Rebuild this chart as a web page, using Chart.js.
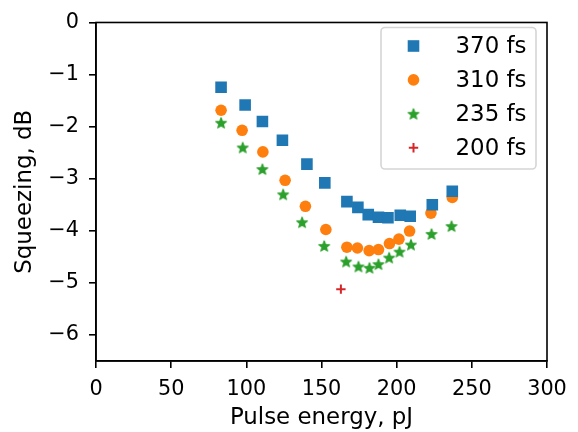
<!DOCTYPE html>
<html>
<head>
<meta charset="utf-8">
<script src="https://cdn.jsdelivr.net/npm/chart.js@4"></script>
<style>
html,body{margin:0;padding:0;background:#fff;}
#wrap{width:578px;height:432px;position:relative;}
</style>
</head>
<body>
<div id="wrap"><canvas id="c" width="578" height="432"></canvas></div>
<script>
// ---- data ----
const seriesLabels = ['370 fs', '310 fs', '235 fs', '200 fs'];
const energy370 = [83.2, 99.2, 110.7, 124.0, 140.3, 152.2, 166.9, 174.2, 181.1, 187.9, 194.2, 202.4, 209.0, 223.7, 237.0];
const squeeze370 = [-1.245, -1.585, -1.90, -2.26, -2.72, -3.08, -3.44, -3.55, -3.69, -3.74, -3.75, -3.70, -3.72, -3.50, -3.24];
const energy310 = [83.2, 97.2, 111.0, 125.8, 139.3, 152.9, 166.9, 173.9, 181.7, 187.9, 195.2, 201.5, 208.6, 222.8, 237.0];
const squeeze310 = [-1.685, -2.07, -2.485, -3.03, -3.53, -3.975, -4.315, -4.33, -4.38, -4.36, -4.245, -4.16, -4.005, -3.66, -3.36];
const energy235 = [83.2, 97.6, 110.7, 124.5, 137.1, 151.8, 166.4, 174.6, 181.9, 187.9, 195.0, 201.9, 209.5, 223.2, 236.5];
const squeeze235 = [-1.925, -2.40, -2.815, -3.30, -3.835, -4.29, -4.59, -4.685, -4.71, -4.64, -4.515, -4.40, -4.265, -4.06, -3.91];
const energy200 = [162.9];
const squeeze200 = [-5.12];
const xTicks = [0, 50, 100, 150, 200, 250, 300];
const yTicks = [0, -1, -2, -3, -4, -5, -6];
const xTitle = 'Pulse energy, pJ';
const yTitle = 'Squeezing, dB';

const FONT = "'DejaVu Sans', sans-serif";
const colors = ['#1f77b4', '#ff7f0e', '#2ca02c', '#d62728'];

// filled five-point star marker (matplotlib '*')
function makeStar(color, R) {
  const s = Math.ceil(R * 2 + 4);
  const cv = document.createElement('canvas');
  cv.width = s; cv.height = s;
  const g = cv.getContext('2d');
  const cx = s / 2, cy = s / 2 + R * 0.1;
  const r = R * 0.42;
  g.beginPath();
  for (let i = 0; i < 10; i++) {
    const a = -Math.PI / 2 + i * Math.PI / 5;
    const rr = i % 2 === 0 ? R : r;
    const px = cx + rr * Math.cos(a), py = cy + rr * Math.sin(a);
    if (i === 0) g.moveTo(px, py); else g.lineTo(px, py);
  }
  g.closePath();
  g.fillStyle = color; g.strokeStyle = color; g.lineWidth = 1.2; g.lineJoin = 'round';
  g.fill(); g.stroke();
  return cv;
}
const starImg = makeStar(colors[2], 5.6);

function pts(xs, ys) { return xs.map((x, i) => ({x: x, y: ys[i]})); }

const datasets = [
  {label: seriesLabels[0], data: pts(energy370, squeeze370), pointStyle: 'rect', pointRadius: 8.2, backgroundColor: colors[0], borderColor: colors[0], borderWidth: 0},
  {label: seriesLabels[1], data: pts(energy310, squeeze310), pointStyle: 'circle', pointRadius: 5.8, backgroundColor: colors[1], borderColor: colors[1], borderWidth: 0},
  {label: seriesLabels[2], data: pts(energy235, squeeze235), pointStyle: starImg, pointRadius: 6, backgroundColor: colors[2], borderColor: colors[2], borderWidth: 0},
  {label: seriesLabels[3], data: pts(energy200, squeeze200), pointStyle: 'cross', pointRadius: 4.7, backgroundColor: colors[3], borderColor: colors[3], borderWidth: 2}
];
datasets.forEach(d => { d.pointHoverRadius = d.pointRadius; d.showLine = false; });

const fmt = v => (v < 0 ? '\u2212' + Math.abs(v) : String(v));

const framePlugin = {
  id: 'frame',
  afterDatasetsDraw(chart) {
    const {ctx, chartArea: a} = chart;
    ctx.save();
    ctx.strokeStyle = '#000';
    ctx.lineWidth = 1.6;
    ctx.strokeRect(a.left, a.top, a.right - a.left, a.bottom - a.top);
    ctx.restore();
  },
  afterDraw(chart) {
    const ctx = chart.ctx;
    // legend box (matplotlib style, upper right)
    const bx = 381, by = 27.5, bw = 155, bh = 141.5, rad = 4;
    ctx.save();
    ctx.beginPath();
    ctx.moveTo(bx + rad, by);
    ctx.arcTo(bx + bw, by, bx + bw, by + bh, rad);
    ctx.arcTo(bx + bw, by + bh, bx, by + bh, rad);
    ctx.arcTo(bx, by + bh, bx, by, rad);
    ctx.arcTo(bx, by, bx + bw, by, rad);
    ctx.closePath();
    ctx.fillStyle = 'rgba(255,255,255,0.8)';
    ctx.fill();
    ctx.strokeStyle = '#d5d5d5';
    ctx.lineWidth = 1.6;
    ctx.stroke();
    chart.data.datasets.forEach((d, i) => {
      const y = 46 + i * 33.9;
      ctx.fillStyle = d.backgroundColor;
      ctx.strokeStyle = d.borderColor;
      ctx.lineWidth = d.borderWidth || 0;
      Chart.helpers.drawPoint(ctx, {pointStyle: d.pointStyle, radius: d.pointRadius, borderWidth: d.borderWidth, rotation: 0}, 413.5, y);
      ctx.fillStyle = '#000';
      ctx.font = '22.9px ' + FONT;
      ctx.textAlign = 'left';
      ctx.textBaseline = 'middle';
      ctx.fillText(d.label, 455.5, y + 1);
    });
    ctx.restore();
  }
};

new Chart(document.getElementById('c'), {
  type: 'scatter',
  data: {datasets: datasets},
  plugins: [framePlugin],
  options: {
    responsive: false,
    animation: false,
    devicePixelRatio: 1,
    layout: {padding: {top: 16, right: 31, left: 0, bottom: 0}},
    plugins: {legend: {display: false}, tooltip: {enabled: false}},
    scales: {
      x: {
        type: 'linear', min: 0, max: 300,
        afterBuildTicks: s => { s.ticks = xTicks.map(v => ({value: v})); },
        afterFit: s => { s.height = 71; },
        grid: {drawOnChartArea: false, drawTicks: true, tickLength: 7, color: '#000', lineWidth: 1.6},
        border: {display: true, color: '#000', width: 1.6},
        ticks: {color: '#000', font: {family: FONT, size: 20.8}, padding: 9, maxRotation: 0, callback: v => fmt(v)},
        title: {display: true, text: xTitle, color: '#000', font: {family: FONT, size: 22.9}, padding: {top: 0, bottom: 0}}
      },
      y: {
        type: 'linear', min: -6.5, max: 0,
        afterBuildTicks: s => { s.ticks = yTicks.map(v => ({value: v})); },
        afterFit: s => { s.width = 96; },
        grid: {drawOnChartArea: false, drawTicks: true, tickLength: 7, color: '#000', lineWidth: 1.6},
        border: {display: true, color: '#000', width: 1.6},
        ticks: {color: '#000', font: {family: FONT, size: 20.8}, padding: 10, callback: v => fmt(v)},
        title: {display: true, text: yTitle, color: '#000', font: {family: FONT, size: 22.9}, padding: {top: 11, bottom: 0}}
      }
    }
  }
});
</script>
</body>
</html>
